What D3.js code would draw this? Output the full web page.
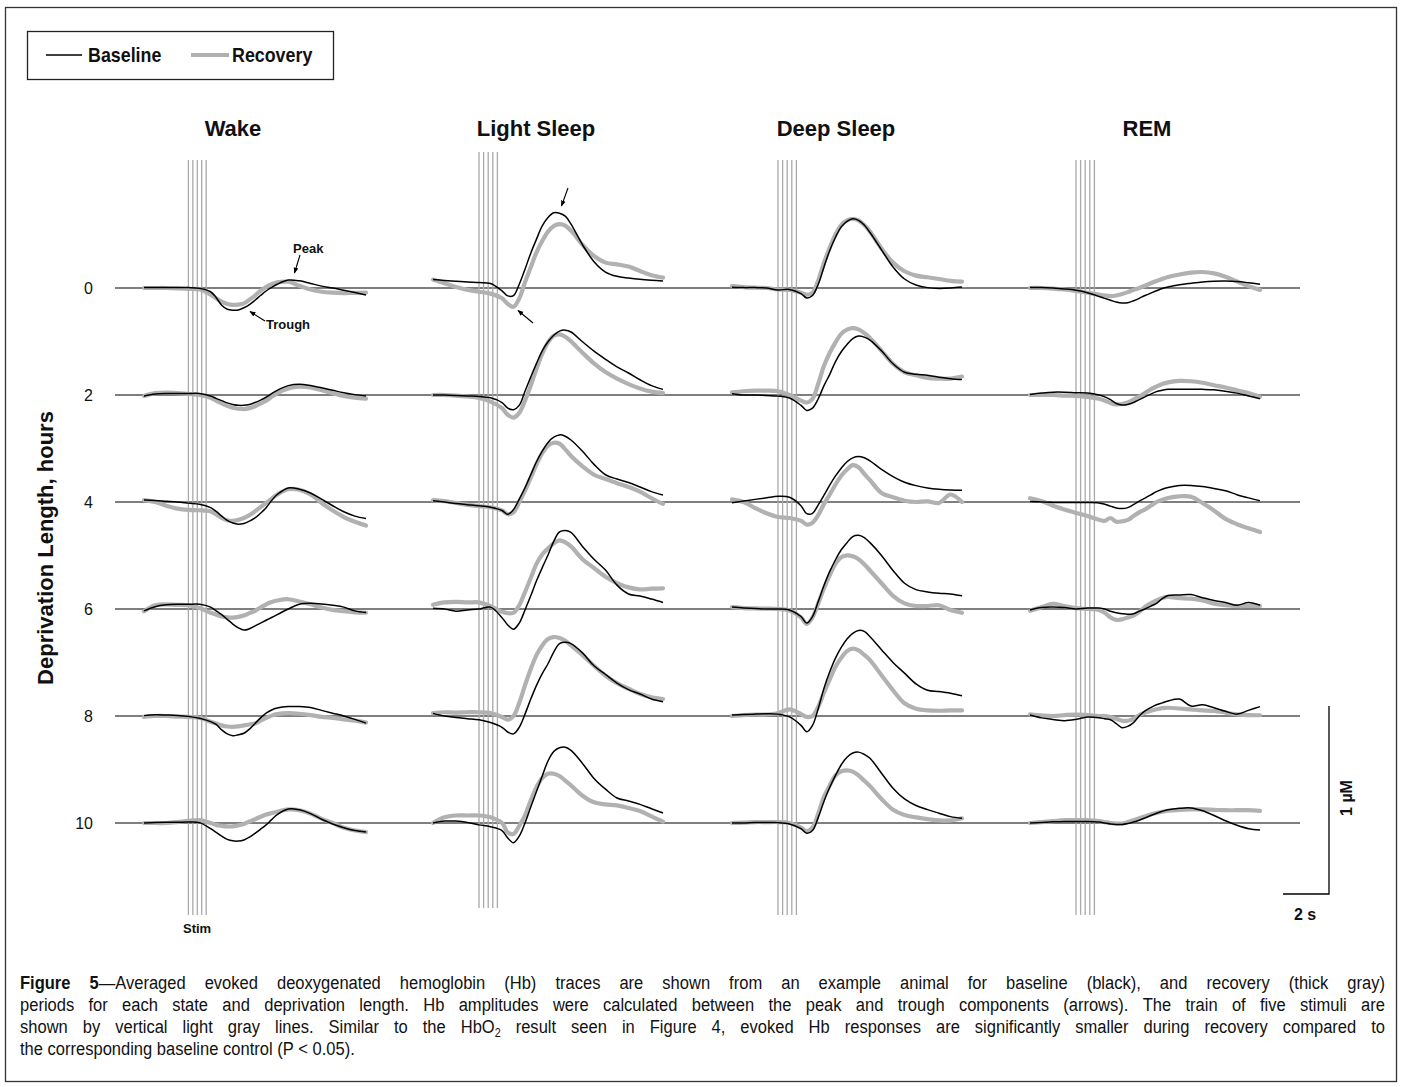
<!DOCTYPE html>
<html>
<head>
<meta charset="utf-8">
<script src="https://cdn.jsdelivr.net/npm/d3@7"></script>
<style>
  body { margin: 0; background: #fff; }
  svg text { font-family: 'Liberation Sans', Arial, sans-serif; fill: #111; }
</style>
</head>
<body>
<svg id="fig" width="1401" height="1087"></svg>
<script>
// ---- data -------------------------------------------------------------
// sample times (s) relative to the first stimulus of the train
const timeSec = [-2,-1.5,-1,-0.5,0,0.5,1,1.25,1.5,1.75,2,2.25,2.5,2.75,3,3.25,3.5,3.75,4,4.5,5,5.5,6,6.5,7,7.5,8];
// five stimuli in the train (s)
const stimTimes = [0, 0.2, 0.4, 0.6, 0.8];
const states = ["Wake", "Light Sleep", "Deep Sleep", "REM"];
const deprivationHours = [0, 2, 4, 6, 8, 10];
const hourTickLabels = ["0", "2", "4", "6", "8", "10"];

// evoked Hb change (µM); one row per deprivation length (0,2,4,6,8,10 h)
const wakeBaseline = [
  [0.003,0.003,0.003,0.003,0.002,-0.002,-0.02,-0.05,-0.092,-0.113,-0.118,-0.117,-0.105,-0.088,-0.065,-0.04,-0.016,0.003,0.02,0.042,0.038,0.024,0.01,0.0,-0.012,-0.024,-0.037],
  [-0.005,0.005,0.008,0.008,0.008,0.008,-0.005,-0.018,-0.03,-0.042,-0.05,-0.055,-0.055,-0.05,-0.04,-0.027,-0.012,0.007,0.025,0.05,0.057,0.05,0.038,0.025,0.012,0.002,-0.005],
  [0.01,0.008,0.004,0.0,-0.006,-0.012,-0.03,-0.05,-0.075,-0.098,-0.112,-0.118,-0.114,-0.102,-0.085,-0.06,-0.03,0.008,0.04,0.075,0.068,0.048,0.015,-0.02,-0.052,-0.075,-0.088],
  [-0.01,0.012,0.022,0.025,0.025,0.025,0.01,-0.01,-0.03,-0.055,-0.08,-0.1,-0.112,-0.105,-0.09,-0.075,-0.06,-0.045,-0.03,0.0,0.025,0.03,0.027,0.02,0.01,-0.01,-0.019],
  [0.002,0.006,0.005,0.003,-0.002,-0.012,-0.03,-0.045,-0.074,-0.095,-0.105,-0.1,-0.092,-0.07,-0.04,-0.01,0.015,0.032,0.042,0.05,0.05,0.045,0.03,0.015,0.0,-0.018,-0.038],
  [0.0,0.003,0.004,0.004,0.005,0.002,-0.03,-0.05,-0.07,-0.087,-0.095,-0.096,-0.09,-0.075,-0.055,-0.033,-0.01,0.018,0.045,0.075,0.07,0.05,0.02,-0.005,-0.025,-0.04,-0.048]
];
const wakeRecovery = [
  [0.0,0.0,0.0,-0.002,-0.005,-0.008,-0.035,-0.055,-0.073,-0.085,-0.09,-0.088,-0.082,-0.062,-0.04,-0.015,0.005,0.02,0.03,0.033,0.012,-0.008,-0.02,-0.025,-0.027,-0.026,-0.025],
  [-0.005,0.01,0.013,0.01,0.006,0.0,-0.015,-0.03,-0.045,-0.058,-0.068,-0.073,-0.075,-0.07,-0.06,-0.046,-0.03,-0.01,0.01,0.035,0.044,0.04,0.025,0.01,-0.005,-0.014,-0.019],
  [0.01,0.0,-0.02,-0.035,-0.042,-0.044,-0.05,-0.065,-0.085,-0.097,-0.1,-0.095,-0.085,-0.07,-0.05,-0.027,-0.005,0.018,0.04,0.068,0.065,0.04,-0.005,-0.045,-0.08,-0.105,-0.125],
  [-0.012,0.02,0.025,0.022,0.02,0.005,-0.02,-0.03,-0.04,-0.045,-0.046,-0.042,-0.035,-0.022,-0.01,0.008,0.025,0.037,0.045,0.052,0.04,0.025,0.008,-0.005,-0.012,-0.018,-0.02],
  [-0.005,0.0,0.0,-0.003,-0.005,-0.01,-0.03,-0.04,-0.05,-0.056,-0.058,-0.055,-0.05,-0.045,-0.04,-0.025,-0.01,0.002,0.01,0.015,0.012,0.005,-0.005,-0.01,-0.018,-0.025,-0.035],
  [0.0,0.0,0.0,0.005,0.012,0.015,0.0,-0.01,-0.015,-0.018,-0.018,-0.012,-0.005,0.008,0.02,0.033,0.045,0.053,0.06,0.072,0.068,0.05,0.022,0.0,-0.025,-0.04,-0.048]
];
const lightBaseline = [
  [0.045,0.04,0.036,0.032,0.029,0.024,-0.015,-0.042,-0.04,0.02,0.1,0.185,0.26,0.33,0.375,0.4,0.398,0.382,0.34,0.23,0.14,0.085,0.062,0.053,0.046,0.041,0.037],
  [0.0,0.0,-0.002,-0.005,-0.008,-0.015,-0.04,-0.07,-0.078,-0.055,0.02,0.095,0.168,0.235,0.283,0.318,0.34,0.345,0.335,0.283,0.233,0.19,0.15,0.117,0.081,0.05,0.03],
  [0.007,0.0,-0.008,-0.014,-0.02,-0.028,-0.045,-0.065,-0.04,0.015,0.076,0.145,0.214,0.27,0.317,0.345,0.357,0.35,0.33,0.27,0.2,0.145,0.122,0.104,0.08,0.055,0.037],
  [0.004,0.0,-0.012,-0.005,0.0,0.01,-0.046,-0.085,-0.108,-0.075,-0.005,0.07,0.15,0.22,0.287,0.36,0.41,0.418,0.407,0.333,0.265,0.207,0.127,0.08,0.069,0.053,0.035],
  [0.014,0.0,-0.008,-0.014,-0.02,-0.035,-0.06,-0.085,-0.095,-0.06,0.01,0.09,0.163,0.225,0.278,0.34,0.385,0.392,0.385,0.336,0.267,0.221,0.175,0.14,0.117,0.09,0.076],
  [0.0,0.01,0.01,0.003,-0.01,-0.02,-0.04,-0.08,-0.105,-0.07,0.0,0.085,0.168,0.25,0.33,0.38,0.4,0.403,0.386,0.317,0.237,0.18,0.133,0.117,0.099,0.076,0.053]
];
const lightRecovery = [
  [0.045,0.025,0.005,-0.01,-0.02,-0.03,-0.055,-0.085,-0.1,-0.055,0.03,0.11,0.19,0.25,0.3,0.33,0.34,0.332,0.305,0.23,0.17,0.135,0.126,0.114,0.09,0.068,0.055],
  [0.0,0.0,-0.003,-0.008,-0.016,-0.035,-0.07,-0.105,-0.12,-0.095,-0.03,0.05,0.14,0.22,0.28,0.315,0.322,0.31,0.285,0.225,0.168,0.122,0.087,0.058,0.035,0.018,0.01],
  [0.01,0.005,-0.005,-0.015,-0.022,-0.028,-0.045,-0.065,-0.055,0.0,0.06,0.13,0.2,0.26,0.3,0.315,0.31,0.28,0.245,0.19,0.145,0.122,0.1,0.08,0.055,0.02,-0.01],
  [0.023,0.035,0.038,0.035,0.035,0.015,-0.015,-0.022,-0.02,0.02,0.09,0.165,0.24,0.29,0.322,0.35,0.365,0.355,0.333,0.265,0.218,0.172,0.138,0.115,0.104,0.108,0.11],
  [0.015,0.02,0.018,0.02,0.02,0.015,-0.005,-0.02,0.0,0.07,0.163,0.25,0.324,0.375,0.41,0.42,0.415,0.4,0.375,0.324,0.267,0.214,0.175,0.145,0.117,0.1,0.09],
  [0.0,0.03,0.04,0.04,0.04,0.03,0.0,-0.05,-0.058,-0.015,0.04,0.12,0.19,0.24,0.262,0.262,0.25,0.225,0.2,0.145,0.11,0.099,0.094,0.08,0.064,0.035,0.007]
];
const deepBaseline = [
  [0.004,0.002,0.002,0.0,-0.01,-0.008,-0.03,-0.053,-0.04,0.02,0.112,0.2,0.27,0.325,0.355,0.368,0.36,0.335,0.295,0.203,0.112,0.048,0.016,0.002,-0.002,0.0,0.005],
  [0.007,0.0,0.0,-0.003,-0.006,-0.016,-0.055,-0.082,-0.07,-0.02,0.05,0.11,0.178,0.23,0.269,0.3,0.314,0.308,0.292,0.235,0.166,0.121,0.11,0.105,0.094,0.087,0.082],
  [-0.004,0.005,0.014,0.022,0.03,0.025,-0.02,-0.062,-0.06,-0.015,0.036,0.09,0.139,0.18,0.214,0.235,0.242,0.235,0.219,0.173,0.135,0.105,0.087,0.075,0.068,0.064,0.062],
  [0.01,0.005,0.003,0.0,0.0,-0.005,-0.04,-0.075,-0.04,0.04,0.125,0.2,0.262,0.315,0.353,0.385,0.392,0.38,0.353,0.285,0.205,0.137,0.103,0.091,0.084,0.08,0.07],
  [0.005,0.008,0.01,0.012,0.01,-0.005,-0.05,-0.084,-0.05,0.04,0.148,0.235,0.308,0.365,0.41,0.44,0.455,0.45,0.422,0.353,0.285,0.228,0.171,0.137,0.13,0.121,0.108],
  [0.0,0.0,0.002,0.002,0.002,-0.005,-0.03,-0.055,-0.04,0.03,0.116,0.19,0.253,0.31,0.35,0.372,0.377,0.365,0.344,0.265,0.185,0.128,0.093,0.071,0.052,0.034,0.025]
];
const deepRecovery = [
  [0.01,0.005,0.002,0.0,-0.008,-0.01,-0.025,-0.036,-0.025,0.04,0.135,0.215,0.285,0.335,0.36,0.368,0.36,0.335,0.3,0.21,0.135,0.089,0.066,0.057,0.048,0.038,0.034],
  [0.014,0.02,0.023,0.023,0.02,0.0,-0.03,-0.04,-0.02,0.06,0.155,0.225,0.28,0.325,0.348,0.356,0.349,0.33,0.303,0.235,0.166,0.121,0.105,0.091,0.087,0.087,0.098],
  [0.014,0.0,-0.032,-0.06,-0.08,-0.085,-0.1,-0.12,-0.11,-0.07,-0.01,0.04,0.093,0.14,0.173,0.196,0.185,0.15,0.116,0.048,0.025,0.007,0.0,0.003,-0.005,0.04,0.0],
  [0.01,0.005,0.003,0.002,0.0,-0.008,-0.045,-0.08,-0.045,0.03,0.11,0.18,0.24,0.275,0.285,0.28,0.265,0.238,0.205,0.137,0.07,0.03,0.016,0.016,0.02,-0.005,-0.02],
  [0.0,0.005,0.008,0.008,0.015,0.035,0.01,-0.005,0.0,0.05,0.125,0.195,0.262,0.31,0.345,0.358,0.349,0.325,0.297,0.217,0.137,0.068,0.039,0.03,0.028,0.03,0.03],
  [0.0,0.002,0.005,0.005,0.005,0.0,-0.025,-0.043,-0.025,0.05,0.139,0.2,0.253,0.275,0.28,0.273,0.253,0.225,0.196,0.128,0.071,0.043,0.03,0.021,0.014,0.014,0.025]
];
const remBaseline = [
  [0.003,0.003,0.0,-0.005,-0.012,-0.025,-0.045,-0.055,-0.065,-0.075,-0.08,-0.078,-0.068,-0.055,-0.04,-0.027,-0.015,-0.003,0.005,0.017,0.025,0.032,0.036,0.037,0.035,0.028,0.02],
  [0.003,0.01,0.015,0.015,0.012,0.01,0.0,-0.01,-0.025,-0.045,-0.053,-0.05,-0.04,-0.025,-0.01,0.005,0.018,0.025,0.03,0.03,0.03,0.03,0.028,0.02,0.01,-0.005,-0.02],
  [0.003,0.0,-0.002,-0.003,-0.003,-0.003,-0.005,-0.012,-0.022,-0.032,-0.035,-0.03,-0.014,0.005,0.021,0.038,0.055,0.068,0.077,0.088,0.088,0.082,0.072,0.06,0.039,0.022,0.007],
  [-0.005,0.008,0.01,0.008,0.0,0.005,0.005,0.0,-0.012,-0.02,-0.025,-0.028,-0.025,-0.012,0.0,0.015,0.03,0.055,0.072,0.075,0.077,0.06,0.045,0.035,0.02,0.035,0.02],
  [0.005,-0.01,-0.018,-0.025,-0.018,-0.005,-0.009,-0.015,-0.02,-0.04,-0.062,-0.055,-0.035,0.0,0.027,0.045,0.06,0.07,0.08,0.09,0.053,0.06,0.044,0.025,0.01,0.03,0.05],
  [0.0,0.003,0.006,0.008,0.008,0.008,0.005,0.0,-0.005,-0.008,-0.008,-0.003,0.005,0.015,0.027,0.04,0.052,0.062,0.07,0.078,0.08,0.065,0.04,0.012,-0.012,-0.03,-0.037]
];
const remRecovery = [
  [0.0,0.0,-0.003,-0.008,-0.015,-0.025,-0.035,-0.04,-0.043,-0.04,-0.032,-0.022,-0.01,0.0,0.012,0.025,0.037,0.048,0.058,0.072,0.082,0.085,0.078,0.06,0.035,0.01,-0.01],
  [0.0,0.0,0.0,-0.003,-0.005,-0.01,-0.02,-0.03,-0.042,-0.05,-0.048,-0.04,-0.025,-0.008,0.01,0.03,0.045,0.058,0.067,0.075,0.073,0.065,0.052,0.04,0.025,0.01,-0.01],
  [0.02,0.005,-0.02,-0.04,-0.058,-0.075,-0.094,-0.1,-0.085,-0.105,-0.103,-0.095,-0.075,-0.055,-0.04,-0.02,0.0,0.012,0.021,0.03,0.028,-0.005,-0.045,-0.09,-0.118,-0.14,-0.16],
  [-0.01,0.01,0.028,0.015,0.005,0.0,-0.005,-0.02,-0.045,-0.058,-0.055,-0.045,-0.035,-0.015,0.011,0.03,0.046,0.058,0.064,0.058,0.055,0.045,0.028,0.02,0.016,0.016,0.016],
  [0.009,0.003,0.0,0.005,0.008,0.005,0.0,0.0,-0.005,-0.015,-0.025,-0.025,-0.015,0.005,0.018,0.028,0.036,0.042,0.044,0.04,0.035,0.03,0.027,0.018,0.009,0.005,0.004],
  [0.0,0.005,0.01,0.015,0.016,0.015,0.01,0.005,0.0,-0.003,-0.003,0.005,0.015,0.025,0.035,0.045,0.053,0.06,0.065,0.07,0.072,0.072,0.07,0.068,0.068,0.068,0.065]
];

const captionLines = [
  "Figure 5—Averaged evoked deoxygenated hemoglobin (Hb) traces are shown from an example animal for baseline (black), and recovery (thick gray)",
  "periods for each state and deprivation length. Hb amplitudes were calculated between the peak and trough components (arrows). The train of five stimuli are",
  "shown by vertical light gray lines. Similar to the HbO2 result seen in Figure 4, evoked Hb responses are significantly smaller during recovery compared to",
  "the corresponding baseline control (P < 0.05)."
];

// ---- layout -----------------------------------------------------------
const W = 1401, H = 1087;
const BASE_COLOR = "#000", REC_COLOR = "#b1b1b1", STIM_COLOR = "#a9a9a9";
const NARROW = 0.85;   // horizontal squeeze giving a condensed face

const panels = [
  { state: "Wake",        baseline: wakeBaseline,  recovery: wakeRecovery,  x: [144, 366], titleX: 233, stimY: [160, 915] },
  { state: "Light Sleep", baseline: lightBaseline, recovery: lightRecovery, x: [433, 663], titleX: 536, stimY: [152, 908] },
  { state: "Deep Sleep",  baseline: deepBaseline,  recovery: deepRecovery,  x: [732, 962], titleX: 836, stimY: [160, 915] },
  { state: "REM",         baseline: remBaseline,   recovery: remRecovery,   x: [1030, 1260], titleX: 1147, stimY: [160, 915] }
];

const svg = d3.select("#fig");
svg.append("rect").attr("width", W).attr("height", H).attr("fill", "#fff");
svg.append("rect")
  .attr("x", 5.5).attr("y", 7.5).attr("width", 1391).attr("height", 1074)
  .attr("fill", "none").attr("stroke", "#333").attr("stroke-width", 1.3);

// arrowhead used by the Peak / Trough pointers
svg.append("defs").append("marker")
  .attr("id", "arrowHead").attr("viewBox", "0 0 10 10")
  .attr("refX", 9).attr("refY", 5)
  .attr("markerWidth", 6).attr("markerHeight", 6)
  .attr("markerUnits", "userSpaceOnUse")
  .attr("orient", "auto")
  .append("path").attr("d", "M0,1 L10,5 L0,9 Z").attr("fill", "#000");

// deprivation length -> row position; amplitude -> vertical offset
const yRow = d3.scaleLinear().domain([0, 10]).range([288, 823]);
const yAmp = d3.scaleLinear().domain([0, 1]).range([0, -188]);

// horizontal reference line for each deprivation length
svg.append("g").selectAll("line").data(deprivationHours).join("line")
  .attr("x1", 115).attr("x2", 1300)
  .attr("y1", d => yRow(d)).attr("y2", d => yRow(d))
  .attr("stroke", "#000").attr("stroke-width", 1.2);

// row labels
const yAxis = d3.axisLeft(yRow).tickValues(deprivationHours)
  .tickFormat((d, i) => hourTickLabels[i]).tickSize(0).tickPadding(0);
const axisG = svg.append("g").attr("transform", "translate(93,0)").call(yAxis);
axisG.select(".domain").remove();
axisG.selectAll("text")
  .attr("font-size", 16).style("font-family", "'Liberation Sans', Arial, sans-serif")
  .attr("dy", "0.35em").attr("fill", "#111");

svg.append("text")
  .attr("transform", "translate(53,548) rotate(-90)")
  .attr("text-anchor", "middle")
  .attr("font-size", 22).attr("font-weight", "bold")
  .text("Deprivation Length, hours");

panels.forEach(p => {
  const x = d3.scaleLinear().domain([timeSec[0], timeSec[timeSec.length - 1]]).range(p.x);
  const g = svg.append("g");

  g.append("text")
    .attr("x", p.titleX).attr("y", 136).attr("text-anchor", "middle")
    .attr("font-size", 22).attr("font-weight", "bold")
    .text(p.state);

  g.append("g").selectAll("line").data(stimTimes).join("line")
    .attr("x1", d => x(d)).attr("x2", d => x(d))
    .attr("y1", p.stimY[0]).attr("y2", p.stimY[1])
    .attr("stroke", STIM_COLOR).attr("stroke-width", 1.3);

  const line = (vals, h) => d3.line()
    .x((d, i) => x(timeSec[i]))
    .y(d => yRow(h) + yAmp(d))
    .curve(d3.curveCatmullRom.alpha(0.5))(vals);

  g.append("g").selectAll("path").data(p.recovery).join("path")
    .attr("d", (vals, i) => line(vals, deprivationHours[i]))
    .attr("fill", "none").attr("stroke", REC_COLOR).attr("stroke-width", 4.2)
    .attr("stroke-linecap", "round").attr("stroke-linejoin", "round");

  g.append("g").selectAll("path").data(p.baseline).join("path")
    .attr("d", (vals, i) => line(vals, deprivationHours[i]))
    .attr("fill", "none").attr("stroke", BASE_COLOR).attr("stroke-width", 1.5)
    .attr("stroke-linejoin", "round");
});

// stimulus label
svg.append("text").attr("x", 183).attr("y", 933)
  .attr("font-size", 13).attr("font-weight", "bold").text("Stim");

// peak / trough pointers
const pointer = (x1, y1, x2, y2) => svg.append("line")
  .attr("x1", x1).attr("y1", y1).attr("x2", x2).attr("y2", y2)
  .attr("stroke", "#000").attr("stroke-width", 1.1)
  .attr("marker-end", "url(#arrowHead)");
svg.append("text").attr("x", 293).attr("y", 253)
  .attr("font-size", 13).attr("font-weight", "bold").text("Peak");
pointer(300, 255, 294.5, 273);
svg.append("text").attr("x", 266).attr("y", 329)
  .attr("font-size", 13).attr("font-weight", "bold").text("Trough");
pointer(265, 321, 250, 311.5);
pointer(568, 188, 561.5, 206);
pointer(533, 323, 518, 310.5);

// legend
const legend = svg.append("g");
legend.append("rect").attr("x", 27.5).attr("y", 31.5).attr("width", 306).attr("height", 48)
  .attr("fill", "none").attr("stroke", "#222").attr("stroke-width", 1.3);
legend.append("line").attr("x1", 46).attr("x2", 82).attr("y1", 55).attr("y2", 55)
  .attr("stroke", BASE_COLOR).attr("stroke-width", 1.5);
legend.append("text").attr("transform", `translate(88,62) scale(${NARROW},1)`)
  .attr("font-size", 21).attr("font-weight", "bold").text("Baseline");
legend.append("line").attr("x1", 191).attr("x2", 229).attr("y1", 55).attr("y2", 55)
  .attr("stroke", REC_COLOR).attr("stroke-width", 4.2);
legend.append("text").attr("transform", `translate(232,62) scale(${NARROW},1)`)
  .attr("font-size", 21).attr("font-weight", "bold").text("Recovery");

// scale bars: 1 µM vertical, 2 s horizontal
const scaleX = d3.scaleLinear().domain([0, 2]).range([1283, 1329]);
const scaleY = d3.scaleLinear().domain([0, 1]).range([894, 706]);
svg.append("path")
  .attr("d", `M${scaleX(0)},${scaleY(0)} H${scaleX(2)} V${scaleY(1)}`)
  .attr("fill", "none").attr("stroke", "#000").attr("stroke-width", 1.3);
svg.append("text").attr("transform", "translate(1352,798) rotate(-90)")
  .attr("text-anchor", "middle").attr("font-size", 16).attr("font-weight", "bold").text("1 µM");
svg.append("text").attr("x", 1305).attr("y", 920)
  .attr("text-anchor", "middle").attr("font-size", 16).attr("font-weight", "bold").text("2 s");

// caption, justified between the margins in a condensed face
const capLeft = 20, capRight = 1385, capTop = 989, capLead = 22, capSize = 19, capSqueeze = 0.87;
const boldPrefix = "Figure 5";
captionLines.forEach((ln, li) => {
  const words = ln.split(" ");
  const row = svg.append("g")
    .attr("transform", `translate(${capLeft},${capTop + li * capLead}) scale(${capSqueeze},1)`);
  let offset = 0;
  const nodes = words.map(w => {
    const t = row.append("text").attr("y", 0).attr("font-size", capSize);
    const start = offset; offset += w.length + 1;
    if (li === 0 && start < boldPrefix.length) {
      const nb = Math.min(w.length, boldPrefix.length - start);
      t.append("tspan").attr("font-weight", "bold").text(w.slice(0, nb));
      if (nb < w.length) t.append("tspan").text(w.slice(nb));
    } else if (w === "HbO2") {
      t.append("tspan").text("HbO");
      t.append("tspan").attr("font-size", capSize * 0.65).attr("dy", 4).text("2");
    } else {
      t.text(w);
    }
    return t;
  });
  const widths = nodes.map(n => n.node().getComputedTextLength());
  const total = d3.sum(widths);
  const last = li === captionLines.length - 1;
  const span = (capRight - capLeft) / capSqueeze;
  const gap = last ? capSize * 0.278 : (span - total) / (words.length - 1);
  let cx = 0;
  nodes.forEach((n, i) => { n.attr("x", cx); cx += widths[i] + gap; });
});
</script>
</body>
</html>
